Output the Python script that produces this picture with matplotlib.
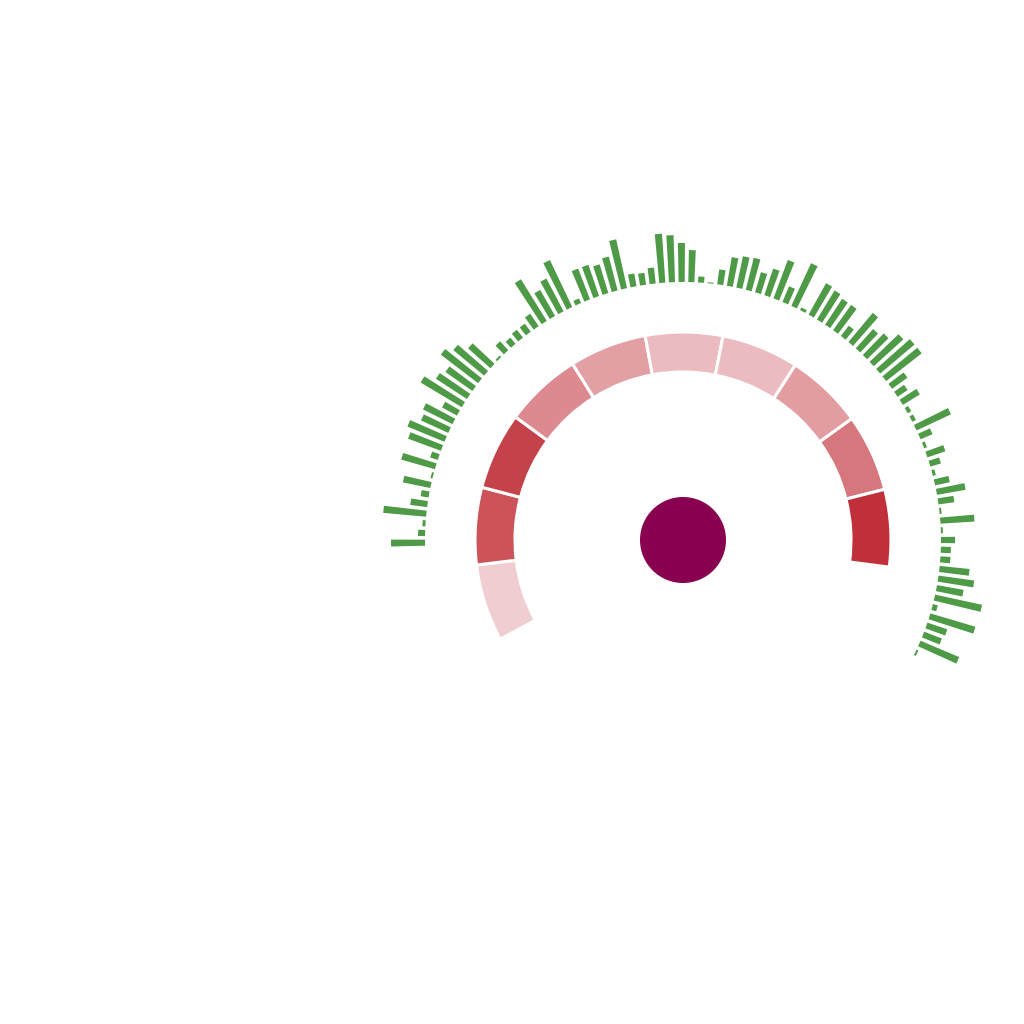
import numpy as np
import matplotlib
matplotlib.use("Agg")
import matplotlib.pyplot as plt

# outer green ticks, clockwise from the left (9 o'clock) round to lower right
tick_lengths = [34, 7, 3, 43, 17, 8, 28, 2, 35, 8,
                35, 40, 30, 33, 17, 48, 37, 33, 47, 40,
                30, 2, 12, 8, 10, 10, 15, 49, 30, 37,
                52, 5, 33, 33, 30, 35, 50, 13, 12, 16,
                49, 47, 39, 32, 6, 1, 15, 29, 32, 33,
                21, 28, 41, 17, 47, 3, 36, 34, 31, 31,
                13, 38, 26, 30, 40, 45, 45, 19, 12, 20,
                4, 4, 38, 13, 3, 19, 11, 3, 15, 29,
                16, 2, 34, 2, 14, 10, 10, 30, 36, 27,
                48, 5, 47, 21, 19, 42, 2]

# gauge band, ten equal pieces clockwise from lower left
band_colors = ["#f0cdd0", "#cc5459", "#c4424a", "#dc8a90", "#e2a0a5",
               "#ecbbbf", "#ecbbbf", "#e29da1", "#d5777d", "#c0303a"]

tick_start = 180.6   # deg
tick_step = 2.15
band_start = 208.5
band_span = 216.0

W = H = 1024
cx, cy = 683, 540
half = 340

fig = plt.figure(figsize=(W / 100, H / 100), dpi=100)
fig.patch.set_facecolor("white")
ax = fig.add_axes([(cx - half) / W, (H - cy - half) / H, 2 * half / W, 2 * half / H],
                  projection="polar")
ax.set_ylim(0, half)
ax.set_axis_off()

# green ticks
theta = np.radians(tick_start - tick_step * np.arange(len(tick_lengths)))
ax.bar(theta, tick_lengths, width=np.radians(1.35), bottom=258,
       color="#4e9a47", edgecolor="none", align="center")

# gauge band
n = len(band_colors)
seg = band_span / n
band_theta = np.radians(band_start - seg * (np.arange(n) + 0.5))
ax.bar(band_theta, 40, width=np.radians(seg), bottom=168,
       color=band_colors, edgecolor="white", linewidth=2.2)

# centre dot
ax.bar(0, 43, width=2 * np.pi, bottom=0, color="#8a0050", edgecolor="none")

fig.savefig("out.png", dpi=100, facecolor="white")
